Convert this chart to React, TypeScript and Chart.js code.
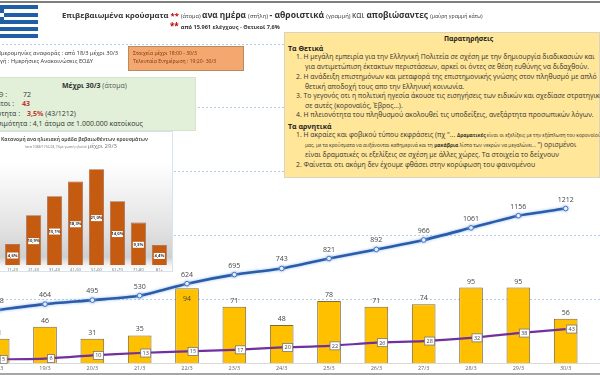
import React, { useEffect, useRef } from "react";
import { Chart, registerables } from "chart.js";

Chart.register(...registerables);

const days = ["18/3", "19/3", "20/3", "21/3", "22/3", "23/3", "24/3", "25/3", "26/3", "27/3", "28/3", "29/3", "30/3"];
const dailyCases = [31, 46, 31, 35, 94, 71, 48, 78, 71, 74, 95, 95, 56];
const totalCases = [418, 464, 495, 530, 624, 695, 743, 821, 892, 966, 1061, 1156, 1212];
const totalDeaths = [5, 6, 10, 13, 15, 17, 20, 22, 26, 28, 32, 38, 43];

const ageGroups = ["11-20", "21-30", "31-40", "41-50", "51-60", "61-70", "71-80", "81+"];
const agePercent = [4.6, 10.9, 15.1, 18.3, 21.0, 14.0, 9.3, 4.4];

const FONT = "'Open Sans', sans-serif";

const notes: [number, number, React.ReactNode][] = [
  [57, 296, "1. Η μεγάλη εμπειρία για την Ελληνική Πολιτεία σε σχέση με την δημιουργία διαδικασιών και"],
  [67, 305, "για αντιμετώπιση έκτακτων περιστάσεων, αρκεί οι όντες σε θέση ευθύνης να διδαχθούν."],
  [77, 296, "2. Η ανάδειξη επιστημόνων και μεταφορά της επιστημονικής γνώσης στον πληθυσμό με απλό"],
  [87, 305, "θετική αποδοχή τους απο την Ελληνική κοινωνία."],
  [96, 296, "3. Το γεγονός οτι η πολιτική ηγεσία άκουσε τις εισηγήσεις των ειδικών και σχεδίασε στρατηγική"],
  [106, 305, "σε αυτές  (κοροναϊός, Έβρος...)."],
  [115, 296, "4. Η πλειονότητα του πληθυσμού ακολουθεί τις υποδείξεις, ανεξάρτητα προσωπικών λόγων."],
  [135, 296, <>1. Η ακραίες και φοβικού τύπου εκφράσεις (πχ "... <span style={{ fontSize: 4.9 }}><b>Δραματικές</b> είναι οι εξελίξεις με την εξάπλωση του κορονοϊού</span></>],
  [145, 305, <><span style={{ fontSize: 4.9 }}>μας, με τα κρούσματα να αυξάνονται καθημερινά και τη <b>μακάβρια</b> λίστα των νεκρών να μεγαλώνει... </span>") ορισμένοι</>],
  [155, 305, "είναι δραματικές οι εξελίξεις σε σχέση με άλλες χώρες. Τα στοιχεία το δείχνουν"],
  [165, 296, "2. Φαίνεται οτι ακόμη δεν έχουμε φθάσει στην κορύφωση του φαινομένου"],
];

function T(p: { x: number; y: number; s: number; b?: boolean; c?: string; right?: boolean; children: React.ReactNode }) {
  return (
    <div
      style={{
        position: "absolute",
        left: p.right ? undefined : p.x,
        right: p.right ? 600 - p.x : undefined,
        top: p.y,
        transform: "translateY(-50%)",
        fontSize: p.s,
        fontWeight: p.b ? 700 : 400,
        color: p.c || "#333",
        whiteSpace: "nowrap",
        lineHeight: 1,
      }}
    >
      {p.children}
    </div>
  );
}

function Box(p: { x: number; y: number; w: number; h: number; bg: string; border?: string; children?: React.ReactNode; extra?: React.CSSProperties }) {
  return (
    <div
      style={{
        position: "absolute",
        left: p.x,
        top: p.y,
        width: p.w,
        height: p.h,
        background: p.bg,
        border: p.border ? `1px solid ${p.border}` : undefined,
        boxSizing: "border-box",
        ...p.extra,
      }}
    >
      {p.children}
    </div>
  );
}

const mainLabels = {
  id: "mainLabels",
  afterDatasetsDraw(chart: any) {
    const { ctx } = chart;
    ctx.save();
    ctx.textAlign = "center";
    ctx.textBaseline = "middle";
    const cum = chart.getDatasetMeta(0).data;
    const dead = chart.getDatasetMeta(1).data;
    const bars = chart.getDatasetMeta(2).data;
    days.forEach((_, i) => {
      ctx.fillStyle = "#444";
      ctx.font = `7px ${FONT}`;
      ctx.fillText(String(totalCases[i]), cum[i].x, cum[i].y - 9);
      const inside = dailyCases[i] > 90 && totalCases[i] < 700;
      ctx.fillText(String(dailyCases[i]), bars[i].x, inside ? bars[i].y + 11 : bars[i].y - 6);
      const x = dead[i].x + 6;
      const y = dead[i].y;
      ctx.fillStyle = "#fff";
      ctx.strokeStyle = "#777";
      ctx.lineWidth = 0.8;
      const w = totalDeaths[i] > 9 ? 10 : 7;
      ctx.fillRect(x - w / 2, y - 4, w, 8);
      ctx.strokeRect(x - w / 2, y - 4, w, 8);
      ctx.fillStyle = "#444";
      ctx.font = `5.5px ${FONT}`;
      ctx.fillText(String(totalDeaths[i]), x, y + 0.3);
    });
    ctx.restore();
  },
};

const lineGlow = {
  id: "lineGlow",
  beforeDatasetDraw(chart: any, args: any) {
    if (args.index === 0) {
      chart.ctx.save();
      chart.ctx.shadowColor = "#8fb8ee";
      chart.ctx.shadowBlur = 3;
    }
  },
  afterDatasetDraw(chart: any, args: any) {
    if (args.index === 0) chart.ctx.restore();
  },
};

const ageLabels = {
  id: "ageLabels",
  afterDatasetsDraw(chart: any) {
    const { ctx } = chart;
    ctx.save();
    ctx.textAlign = "center";
    ctx.textBaseline = "middle";
    ctx.font = `bold 4.2px ${FONT}`;
    chart.getDatasetMeta(0).data.forEach((b: any, i: number) => {
      const y = b.y + (b.base - b.y) / 2 + 1;
      ctx.fillStyle = "#fff";
      ctx.fillRect(b.x - 5.5, y - 3, 11, 6);
      ctx.fillStyle = "#333";
      ctx.fillText(agePercent[i].toFixed(1).replace(".", ",") + "%", b.x, y);
    });
    ctx.restore();
  },
};

export default function App() {
  const mainRef = useRef<HTMLCanvasElement>(null);
  const ageRef = useRef<HTMLCanvasElement>(null);

  useEffect(() => {
    document.body.style.margin = "0";
    const main = new Chart(mainRef.current!, {
      type: "bar",
      data: {
        labels: [...days, ""],
        datasets: [
          {
            type: "line",
            data: totalCases,
            yAxisID: "y1",
            borderColor: "#2a5caa",
            borderWidth: 2.6,
            tension: 0.2,
            pointRadius: 2.3,
            pointBorderWidth: 0.8,
            pointBackgroundColor: "#fff",
            pointBorderColor: "#2a5caa",
            order: 0,
          },
          {
            type: "line",
            data: totalDeaths,
            yAxisID: "y",
            borderColor: "#7030a0",
            borderWidth: 2.2,
            tension: 0.2,
            pointRadius: 0,
            order: 0,
          },
          {
            type: "bar",
            data: dailyCases,
            yAxisID: "y",
            backgroundColor: "#FFC000",
            borderColor: "#7f6a3a",
            borderWidth: 1,
            barPercentage: 0.5,
            categoryPercentage: 1,
            order: 1,
          },
        ] as any,
      },
      options: {
        responsive: false,
        animation: false,
        devicePixelRatio: 1,
        layout: { padding: { left: 14, right: 13.3, top: 44, bottom: 0 } },
        plugins: { legend: { display: false }, tooltip: { enabled: false } },
        scales: {
          x: {
            grid: { display: false, drawTicks: false },
            border: { color: "#d9d9d9" },
            afterFit: (s: any) => { s.height = 11.6; },
            ticks: { color: "#666", font: { size: 5.5, family: FONT }, padding: 2, maxRotation: 0, autoSkip: false },
          },
          y: {
            min: 0,
            max: 400,
            afterFit: (s: any) => { s.width = 0; },
            ticks: { display: false, stepSize: 80 },
            border: { display: false, dash: [2, 2] },
            grid: { color: "#b4cde6", lineWidth: 1, drawTicks: false },
          },
          y1: { min: 0, max: 2500, display: false },
        },
      } as any,
      plugins: [mainLabels, lineGlow],
    });

    const age = new Chart(ageRef.current!, {
      type: "bar",
      data: {
        labels: ageGroups,
        datasets: [
          {
            data: agePercent,
            backgroundColor: "#C55A11",
            borderColor: "#a0674a",
            borderWidth: 0.8,
            barPercentage: 0.72,
            categoryPercentage: 1,
          },
        ],
      },
      options: {
        responsive: false,
        animation: false,
        devicePixelRatio: 1,
        layout: { padding: { left: 2.2, right: 3.2, top: 20, bottom: 0 } },
        plugins: { legend: { display: false }, tooltip: { enabled: false } },
        scales: {
          x: {
            grid: { display: false, drawTicks: false },
            border: { display: false },
            afterFit: (s: any) => { s.height = 7; },
            ticks: { color: "#777", font: { size: 4.2, family: FONT }, padding: 2, maxRotation: 0, autoSkip: false },
          },
          y: { min: 0, max: 25, display: false },
        },
      } as any,
      plugins: [ageLabels],
    });
    return () => {
      main.destroy();
      age.destroy();
    };
  }, []);

  return (
    <div style={{ position: "fixed", left: 0, top: 0, width: 600, height: 375, overflow: "hidden", background: "#fff", fontFamily: FONT }}>
      <canvas ref={mainRef} width={690} height={375} style={{ position: "absolute", left: -40, top: 0, display: "block" }} />

      <Box x={0} y={1} w={600} h={1.5} bg="#7f7f7f" />
      <Box x={0} y={373} w={600} h={2} bg="#a6a6a6" />

      {/* flag */}
      <Box x={0} y={5} w={38} h={4} bg="#1f5fa8" />
      <Box x={0} y={13} w={38} h={4} bg="#1f5fa8" />
      <Box x={0} y={20} w={38} h={3.5} bg="#1f5fa8" />
      <Box x={0} y={27} w={38} h={3.5} bg="#1f5fa8" />
      <Box x={0} y={34} w={38} h={4} bg="#1f5fa8" />
      <Box x={0} y={5} w={3.5} h={18} bg="#1f5fa8" />
      <Box x={0} y={13} w={3.5} h={4} bg="#fff" />

      {/* title */}
      <T x={62} y={15} s={7.7}>
        <b>Επιβεβαιωμένα κρούσματα </b>
        <b style={{ color: "#c00000" }}>** </b>
        <span style={{ fontSize: 5.6 }}>(άτομα) </span>
        <b style={{ fontSize: 8.3 }}>ανα ημέρα </b>
        <span style={{ fontSize: 5.8 }}>(στήλη) </span>
        <b style={{ fontSize: 8.6 }}>- αθροιστικά </b>
        <span style={{ fontSize: 5.8 }}>(γραμμή) </span>
        <span style={{ fontSize: 8.3 }}>και </span><b style={{ fontSize: 8.3 }}>αποβιώσαντες </b>
        <span style={{ fontSize: 5.2 }}>(μαύρη γραμμή κάτω)</span>
      </T>
      <T x={170} y={25.5} s={5.6} b>
        <span style={{ color: "#c00000", fontSize: 8 }}>** </span>από 15.961 ελέγχους - Θετικοί 7,6%
      </T>

      {/* reference info */}
      <T x={118} y={53.5} s={5.7} right>Ημερομηνίες αναφοράς : από 18/3 μέχρι 30/3</T>
      <T x={93} y={62} s={5.7} right>Πηγή : Ημερήσιες Ανακοινώσεις ΕΟΔΥ</T>

      <Box x={128} y={46} w={116} h={25} bg="#F4A870" border="#b98a5c" />
      <T x={133} y={54} s={5.1} c="#7a3510">Στοιχεία μέχρι  18:00 - 30/3</T>
      <T x={133} y={62} s={5.1} c="#7a3510">Τελευταία Ενημέρωση  : 19:20- 30/3</T>

      {/* totals */}
      <Box x={-2} y={77} w={198} h={54} bg="#E2F0D9" border="#d5e5cc" />
      <T x={62} y={85} s={7}><b>Μέχρι 30/3</b> <span style={{ color: "#555" }}>(άτομα)</span></T>
      <T x={7} y={94} s={7} right>Σε ΜΕΘ :</T>
      <T x={23} y={94} s={7}>72</T>
      <T x={14} y={103} s={7} right>Θάνατοι :</T>
      <T x={22} y={103} s={7} b c="#c0392b">43</T>
      <T x={20} y={113} s={7} right><span>Θνητότητα :</span></T>
      <T x={27} y={113} s={7}><b style={{ color: "#c0392b" }}>3,5%</b>  (43/1212)</T>
      <T x={143} y={123} s={7} right>Θνησιμότητα :  4,1 άτομα σε 1.000.000 κατοίκους</T>

      {/* age distribution */}
      <Box
        x={-2}
        y={131}
        w={175}
        h={141}
        bg="linear-gradient(180deg,#ffffff 0%,#ffffff 22%,#e2e2e2 70%,#cfcfcf 90%,#f4f4f4 96%,#ffffff 100%)"
        border="#d5e3ee"
      />
      <canvas ref={ageRef} width={173} height={141} style={{ position: "absolute", left: 0, top: 131, display: "block" }} />
      <T x={1} y={138.5} s={4.9} b c="#555">Κατανομή ανα ηλικιακή ομάδα βεβαιωθέντων κρουσμάτων</T>
      <T x={25} y={146} s={3.4} c="#777">
        (στα 1088/1156-94,1%με γωστή ηλικία) <span style={{ fontSize: 6 }}>μέχρι 29/3</span>
      </T>

      {/* notes */}
      <Box x={284} y={32} w={316} h={146} bg="#FFE699" border="#d9d4bd" />
      <T x={444} y={38.5} s={6.8} b c="#222">Παρατηρήσεις</T>
      <T x={288} y={48} s={7} b c="#222">Τα Θετικά</T>
      <T x={288} y={125.5} s={7} b c="#222">Τα αρνητικά</T>
      {notes.map(([y, x, t], i) => (
        <T key={i} x={x} y={y} s={6.85} c="#333">{t}</T>
      ))}
    </div>
  );
}
